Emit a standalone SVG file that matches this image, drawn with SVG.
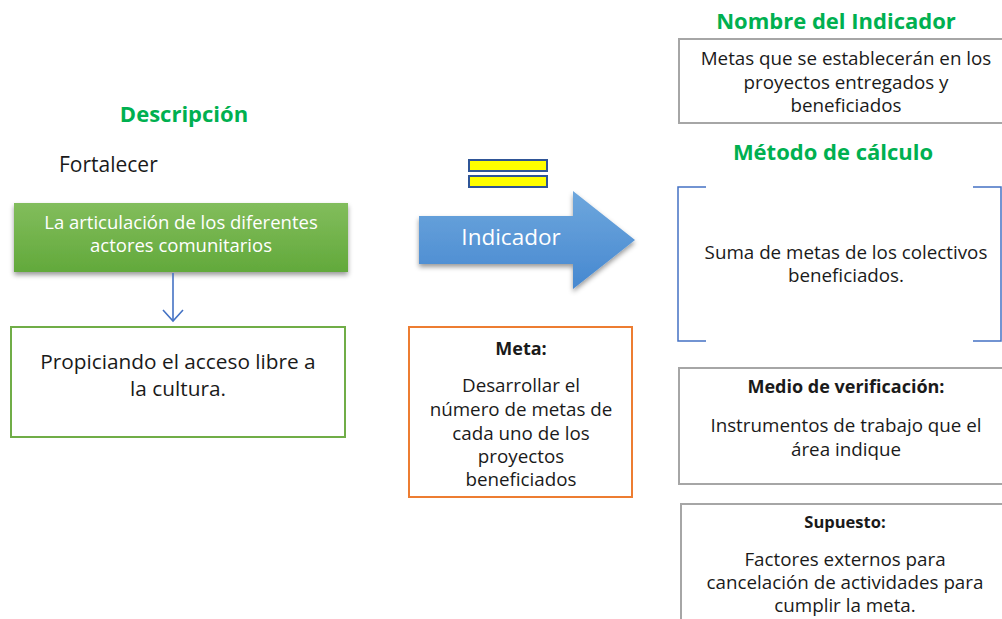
<svg xmlns="http://www.w3.org/2000/svg" width="1002" height="619" viewBox="0 0 1002 619">
<style>
text{font-family:"Open Sans","Noto Sans","Liberation Sans",sans-serif;fill:#1a1a1a}
.h{font-weight:bold;fill:#00b050;font-size:22px;text-anchor:middle}
.c{text-anchor:middle}
.t17{font-size:18.8px}
.b{font-weight:bold;font-size:18px}
.w{fill:#fff}
.box{fill:#fff;stroke-width:2}
</style>
<defs>
<linearGradient id="gg" x1="0" y1="0" x2="0" y2="1"><stop offset="0" stop-color="#82bd5c"/><stop offset="1" stop-color="#62a93b"/></linearGradient>
<linearGradient id="bg" x1="0" y1="0" x2="0" y2="1"><stop offset="0" stop-color="#6ea7dd"/><stop offset="1" stop-color="#4688d0"/></linearGradient>
<filter id="sh" x="-10%" y="-10%" width="120%" height="130%"><feDropShadow dx="0" dy="3" stdDeviation="2.5" flood-color="#000" flood-opacity="0.4"/></filter>
<marker id="ah" markerWidth="14" markerHeight="22" refX="12" refY="11" orient="auto" markerUnits="userSpaceOnUse" viewBox="0 0 14 22"><path d="M1,1 L12,11 L1,21" fill="none" stroke="#4472c4" stroke-width="1.6"/></marker>
</defs>

<text class="h" x="184" y="122">Descripción</text>
<text x="59" y="172" font-size="21">Fortalecer</text>

<g id="node-articulacion">
<rect x="14" y="203" width="334" height="69" fill="url(#gg)" filter="url(#sh)"/>
<text class="c w" x="181" y="229" font-size="18.5">La articulación de los diferentes</text>
<text class="c w" x="181" y="252" font-size="18.5">actores comunitarios</text>
</g>

<g id="connectors">
<line x1="173" y1="273" x2="173" y2="321" stroke="#4472c4" stroke-width="1.6" marker-end="url(#ah)"/>
</g>

<g id="node-propiciando">
<rect class="box" x="11" y="327" width="334" height="110" stroke="#70ad47"/>
<text class="c" x="178" y="369" font-size="20.8">Propiciando el acceso libre a</text>
<text class="c" x="178" y="396" font-size="20.8">la cultura.</text>
</g>

<g id="equals">
<rect x="469" y="160" width="78" height="11" fill="#ffff00" stroke="#2f5597" stroke-width="2"/>
<rect x="469" y="176" width="78" height="11" fill="#ffff00" stroke="#2f5597" stroke-width="2"/>
</g>

<g id="node-indicador">
<path d="M419,216 H573 V191 L635,240 L573,289 V264 H419 Z" fill="url(#bg)" filter="url(#sh)"/>
<text class="c w" x="511" y="245" font-size="22.5">Indicador</text>
</g>

<g id="node-meta">
<rect class="box" x="409" y="327" width="223" height="170" stroke="#ed7d31"/>
<text class="c b" x="521" y="355" font-size="18">Meta:</text>
<text class="c t17" x="521" y="392">Desarrollar el</text>
<text class="c t17" x="521" y="416">número de metas de</text>
<text class="c t17" x="521" y="440">cada uno de los</text>
<text class="c t17" x="521" y="463">proyectos</text>
<text class="c t17" x="521" y="486">beneficiados</text>
</g>

<text class="h" x="836" y="29">Nombre del Indicador</text>
<g id="node-nombre">
<rect class="box" x="679" y="39" width="330" height="84" stroke="#a6a6a6"/>
<text class="c t17" x="846" y="65">Metas que se establecerán en los</text>
<text class="c t17" x="846" y="89">proyectos entregados y</text>
<text class="c t17" x="846" y="112">beneficiados</text>
</g>

<text class="h" x="833" y="160">Método de cálculo</text>
<g id="node-metodo">
<path d="M706,187 H678 V341 H706" fill="none" stroke="#4472c4" stroke-width="1.5"/>
<path d="M973,187 H1001 V341 H973" fill="none" stroke="#4472c4" stroke-width="1.5"/>
<text class="c t17" x="846" y="259">Suma de metas de los colectivos</text>
<text class="c t17" x="846" y="282">beneficiados.</text>
</g>

<g id="node-medio">
<rect class="box" x="679" y="368" width="330" height="116" stroke="#a6a6a6"/>
<text class="c b" x="846" y="393">Medio de verificación:</text>
<text class="c t17" x="846" y="432">Instrumentos de trabajo que el</text>
<text class="c t17" x="846" y="456">área indique</text>
</g>

<g id="node-supuesto">
<rect class="box" x="681" y="504" width="330" height="130" stroke="#a6a6a6"/>
<text class="c" x="845" y="528" font-weight="bold" font-size="16.5">Supuesto:</text>
<text class="c t17" x="845" y="566">Factores externos para</text>
<text class="c t17" x="845" y="589">cancelación de actividades para</text>
<text class="c t17" x="845" y="612">cumplir la meta.</text>
</g>
</svg>
